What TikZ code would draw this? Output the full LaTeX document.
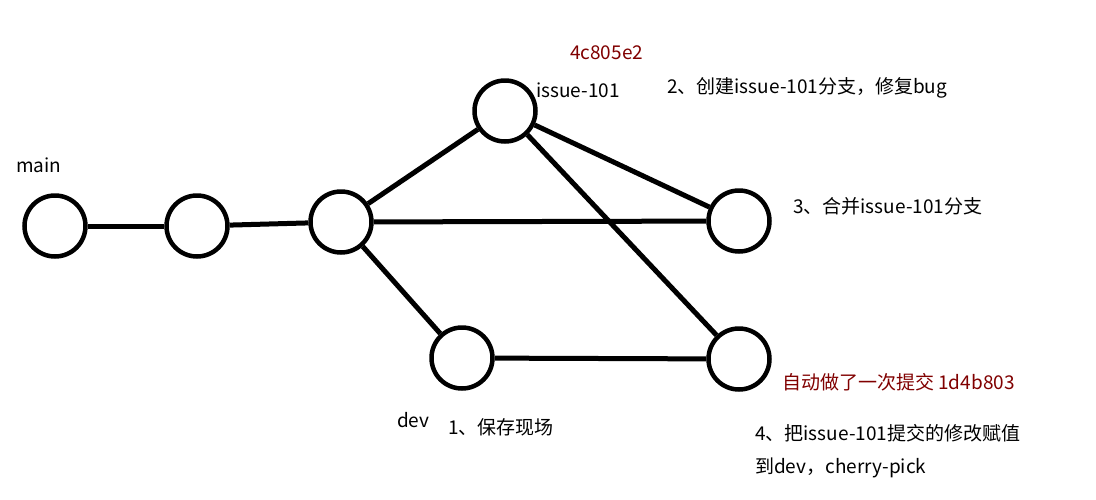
\documentclass[tikz,border=0pt]{standalone}
\usepackage{fontspec}
\setmainfont{Noto Sans CJK SC}
\definecolor{dred}{RGB}{128,0,0}
\begin{document}
\begin{tikzpicture}[x=1pt,y=-1pt,
  commit/.style={circle,draw,line width=4.5pt,minimum size=61pt,inner sep=0pt},
  edge/.style={line width=5pt},
  lbl/.style={font=\fontsize{19}{23}\selectfont,inner sep=0pt,anchor=west},
  red/.style={lbl,text=dred}]
\useasboundingbox (0,0) rectangle (1096,499);
\node[commit] (c1) at (55,226) {};
\node[commit] (c2) at (197,226) {};
\node[commit] (c3) at (341,222) {};
\node[commit] (is) at (505,111) {};
\node[commit] (rt) at (739,221) {};
\node[commit] (dv) at (462,358) {};
\node[commit] (rb) at (739,359) {};
\draw[edge] (c1) -- (c2);
\draw[edge] (c2) -- (c3);
\draw[edge] (c3) -- (is);
\draw[edge] (c3) -- (rt);
\draw[edge] (c3) -- (dv);
\draw[edge] (is) -- (rt);
\draw[edge] (is) -- (rb);
\draw[edge] (dv) -- (rb);
\node[lbl] (lmain) at (16,165) {main};
\node[lbl] (lis) at (536,90) {issue-101};
\node[red] (lh1) at (570,53) {4c805e2};
\node[lbl] (l2) at (667,88) {2、创建issue-101分支，修复bug};
\node[lbl] (l3) at (793,206) {3、合并issue-101分支};
\node[red] (lh2) at (782,382) {自动做了一次提交 1d4b803};
\node[lbl] (ldev) at (397,420) {dev};
\node[lbl] (l1) at (448,427) {1、保存现场};
\node[lbl] (l4a) at (755,433) {4、把issue-101提交的修改赋值};
\node[lbl] (l4b) at (755,468) {到dev，cherry-pick};
\end{tikzpicture}
\end{document}
